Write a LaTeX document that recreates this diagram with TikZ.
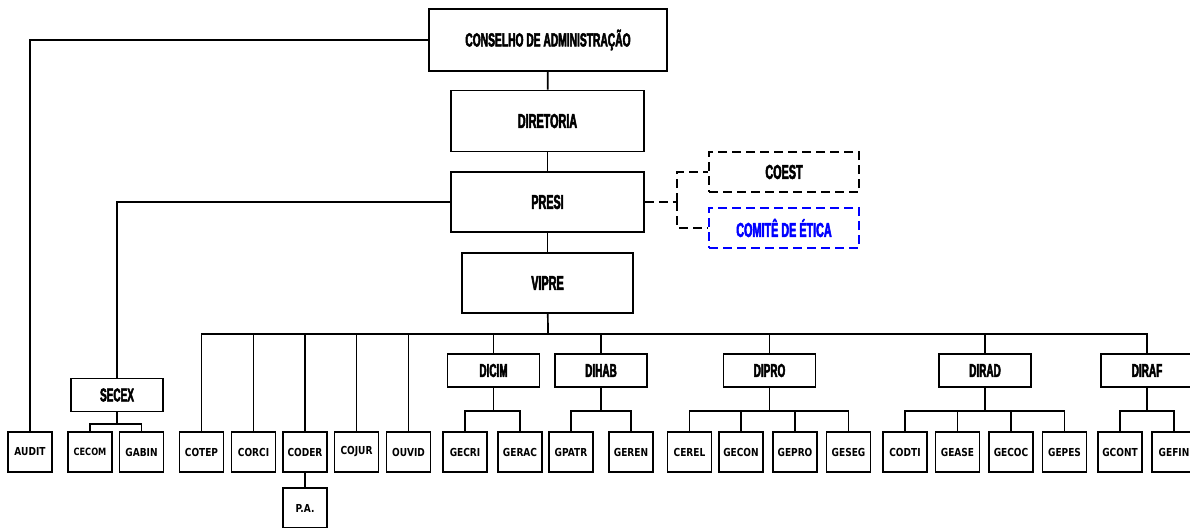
\documentclass[tikz,border=0pt]{standalone}
\usepackage{fontspec}
\newfontfamily\headfont[FakeStretch=0.54,FakeBold=2.5]{Liberation Sans}
\newfontfamily\boxfont[FakeStretch=0.82]{DejaVu Sans}
\usepackage{tikz}
\usetikzlibrary{calc}
\tikzset{
  orgbox/.style={draw, line width=1.7pt, inner sep=0pt, align=center},
  board/.style={orgbox, minimum width=193pt, minimum height=61pt, font=\headfont\bfseries\fontsize{20}{22}\selectfont},
  division/.style={orgbox, minimum width=92pt, minimum height=33pt, font=\headfont\bfseries\fontsize{18.5}{20}\selectfont},
  sector/.style={orgbox, minimum width=44pt, minimum height=40pt, font=\boxfont\bfseries\fontsize{11}{12}\selectfont},
  advisory/.style={orgbox, dash pattern=on 9pt off 5pt, minimum width=150pt, minimum height=40pt, font=\headfont\bfseries\fontsize{20}{22}\selectfont},
  link/.style={line width=1.7pt},
}

\begin{document}
\begin{tikzpicture}[x=1pt,y=-1pt]
\useasboundingbox (0,0) rectangle (1190,527);
\clip (0,0) rectangle (1190,527);

% upper levels
\node[board, minimum width=238pt, minimum height=62pt, font=\headfont\bfseries\fontsize{19}{21}\selectfont] (conselho) at (548,40) {CONSELHO DE ADMINISTRAÇÃO};
\node[board] (diretoria) at (547.5,121) {DIRETORIA};
\node[board, minimum height=60pt] (presi) at (547.5,202) {PRESI};
\node[board, minimum width=171pt, minimum height=60pt] (vipre) at (547.5,283) {VIPRE};
\node[advisory] (coest) at (784,172) {COEST};
\node[advisory, draw=blue, text=blue] (etica) at (784,228) {COMITÊ DE ÉTICA};

% divisions
\node[division] (secex) at (117,395) {SECEX};
\node[division] (dicim) at (493.5,370.5) {DICIM};
\node[division] (dihab) at (601,370.5) {DIHAB};
\node[division] (dipro) at (769.5,370.5) {DIPRO};
\node[division] (dirad) at (985,370.5) {DIRAD};
\node[division] (diraf) at (1147,370.5) {DIRAF};

% sectors
\node[sector] (audit) at (30,452) {AUDIT};
\node[sector, font=\boxfont\bfseries\fontsize{10}{11}\selectfont] (cecom) at (90,452) {CECOM};
\node[sector] (gabin) at (141.5,452) {GABIN};
\node[sector] (cotep) at (201.5,452) {COTEP};
\node[sector] (corci) at (253.5,452) {CORCI};
\node[sector] (coder) at (305,452) {CODER};
\node[sector] (cojur) at (356.5,452) {COJUR};
\node[sector] (ouvid) at (408.5,452) {OUVID};
\node[sector] (gecri) at (465,452) {GECRI};
\node[sector] (gerac) at (520,452) {GERAC};
\node[sector] (gpatr) at (571,452) {GPATR};
\node[sector] (geren) at (631,452) {GEREN};
\node[sector] (cerel) at (689.5,452) {CEREL};
\node[sector] (gecon) at (741,452) {GECON};
\node[sector] (gepro) at (795,452) {GEPRO};
\node[sector] (geseg) at (848.5,452) {GESEG};
\node[sector] (codti) at (905,452) {CODTI};
\node[sector] (gease) at (957.5,452) {GEASE};
\node[sector] (gecoc) at (1011,452) {GECOC};
\node[sector] (gepes) at (1064.5,452) {GEPES};
\node[sector] (gcont) at (1120,452) {GCONT};
\node[sector] (gefin) at (1174,452) {GEFIN};
\node[sector] (pa) at (305,508) {P.A.};

% connectors
\draw[link] (conselho.west) -| (audit.north);
\draw[link] (conselho) -- (diretoria);
\draw[link] (diretoria) -- (presi);
\draw[link] (presi) -- (vipre);
\draw[link] (presi.west) -| (secex.north);
\draw[link] (coder) -- (pa);

\coordinate (split) at (677,202);
\draw[link, dash pattern=on 9pt off 5pt] (presi.east) -- (split);
\draw[link, dash pattern=on 9pt off 5pt] (split) |- (coest.west);
\draw[link, dash pattern=on 9pt off 5pt] (split) |- (etica.west);

\coordinate (bus) at (548,334);
\draw[link] (vipre) -- (bus);
\foreach \c in {cotep,corci,coder,cojur,ouvid,dicim,dihab,dipro,dirad,diraf}
  \draw[link] (bus) -| (\c.north);

\foreach \p/\y/\kids in {secex/424/{cecom,gabin}, dicim/411/{gecri,gerac}, dihab/411/{gpatr,geren},
    dipro/411/{cerel,gecon,gepro,geseg}, dirad/411/{codti,gease,gecoc,gepes}, diraf/411/{gcont,gefin}}{
  \coordinate (\p-bar) at (\p.south |- 0,\y);
  \draw[link] (\p) -- (\p-bar);
  \foreach \c in \kids
    \draw[link] (\p-bar) -| (\c.north);
}
\end{tikzpicture}
\end{document}
